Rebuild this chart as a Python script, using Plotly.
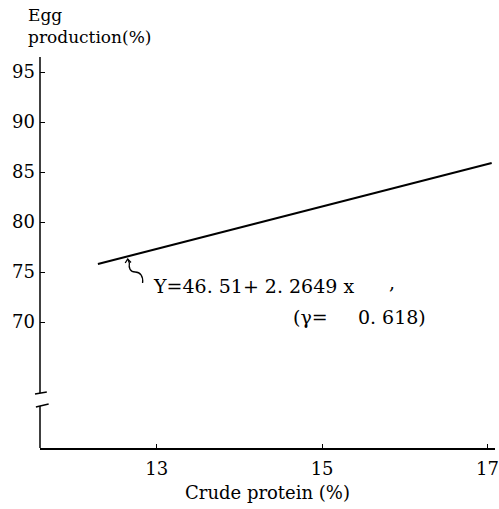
import plotly.graph_objects as go

# Data
protein = [12.29, 17.05]          # Crude protein (%)
egg_prod = [75.8, 85.9]           # Egg production (%)
x_ticks = [13, 15, 17]
y_ticks = [70, 75, 80, 85, 90, 95]
eq_text = "Y=46. 51+ 2. 2649 x"
r_text = "(γ=     0. 618)"

FONT = "DejaVu Serif"
XR = [11.59, 17.09]
YR = [57.4, 96.5]

fig = go.Figure()
fig.add_trace(go.Scatter(x=protein, y=egg_prod, mode="lines",
                         line=dict(color="black", width=2), showlegend=False,
                         hoverinfo="skip"))

shapes = []
# y-axis line with break
shapes.append(dict(type="line", xref="paper", yref="y", x0=0, x1=0, y0=62.9, y1=YR[1],
                   line=dict(color="black", width=1.5)))
shapes.append(dict(type="line", xref="paper", yref="y", x0=0, x1=0, y0=YR[0], y1=61.6,
                   line=dict(color="black", width=1.5)))
# break marks
shapes.append(dict(type="line", xref="paper", yref="y", x0=-0.011, x1=0.015, y0=62.8, y1=63.0,
                   line=dict(color="black", width=1.5)))
shapes.append(dict(type="line", xref="paper", yref="y", x0=-0.009, x1=0.019, y0=61.5, y1=61.8,
                   line=dict(color="black", width=1.5)))
# squiggle pointer
shapes.append(dict(type="path", xref="x", yref="y",
                   path="M 12.83 73.9 C 12.84 74.6, 12.80 75.0, 12.74 75.0 C 12.68 75.0, 12.66 75.4, 12.67 75.9 L 12.65 76.3",
                   line=dict(color="black", width=1.3)))
shapes.append(dict(type="path", xref="x", yref="y",
                   path="M 12.62 75.9 L 12.65 76.3 L 12.69 75.95",
                   line=dict(color="black", width=1.3)))

fig.update_layout(
    width=499, height=509,
    margin=dict(l=40, r=4, t=57, b=61),
    paper_bgcolor="white", plot_bgcolor="white",
    font=dict(family=FONT, color="black", size=18),
    shapes=shapes,
    xaxis=dict(range=XR, tickmode="array", tickvals=x_ticks,
               ticktext=[str(v) for v in x_ticks], automargin=False,
               showline=True, linecolor="black", linewidth=1.5,
               ticks="inside", ticklen=4, tickcolor="black",
               ticklabelstandoff=4, ticklabeloverflow="allow",
               showgrid=False, zeroline=False,
               tickfont=dict(family=FONT, size=18),
               title=dict(text="Crude protein (%)", font=dict(family=FONT, size=18), standoff=8)),
    yaxis=dict(range=YR, tickmode="array", tickvals=y_ticks,
               ticktext=[str(v) for v in y_ticks], automargin=False,
               showline=False, ticks="inside", ticklen=5, tickcolor="black",
               ticklabelstandoff=4, ticklabeloverflow="allow",
               showgrid=False, zeroline=False,
               tickfont=dict(family=FONT, size=18)),
    annotations=[
        dict(text="Egg<br>production(%)", xref="paper", yref="paper", x=-0.03, y=1.0,
             xanchor="left", yanchor="bottom", showarrow=False, align="left",
             font=dict(family=FONT, size=17), yshift=8),
        dict(text=eq_text, xref="x", yref="y", x=12.93, y=73.6, xanchor="left",
             yanchor="middle", showarrow=False, font=dict(family=FONT, size=19)),
        dict(text=",", xref="x", yref="y", x=15.78, y=74.0, xanchor="left",
             yanchor="middle", showarrow=False, font=dict(family=FONT, size=19)),
        dict(text=r_text, xref="x", yref="y", x=14.62, y=70.5, xanchor="left",
             yanchor="middle", showarrow=False, font=dict(family=FONT, size=19)),
    ],
)

fig.write_html("out.html", config={"displayModeBar": False},
               post_script="document.body.style.margin='0';document.body.style.overflow='hidden';")
